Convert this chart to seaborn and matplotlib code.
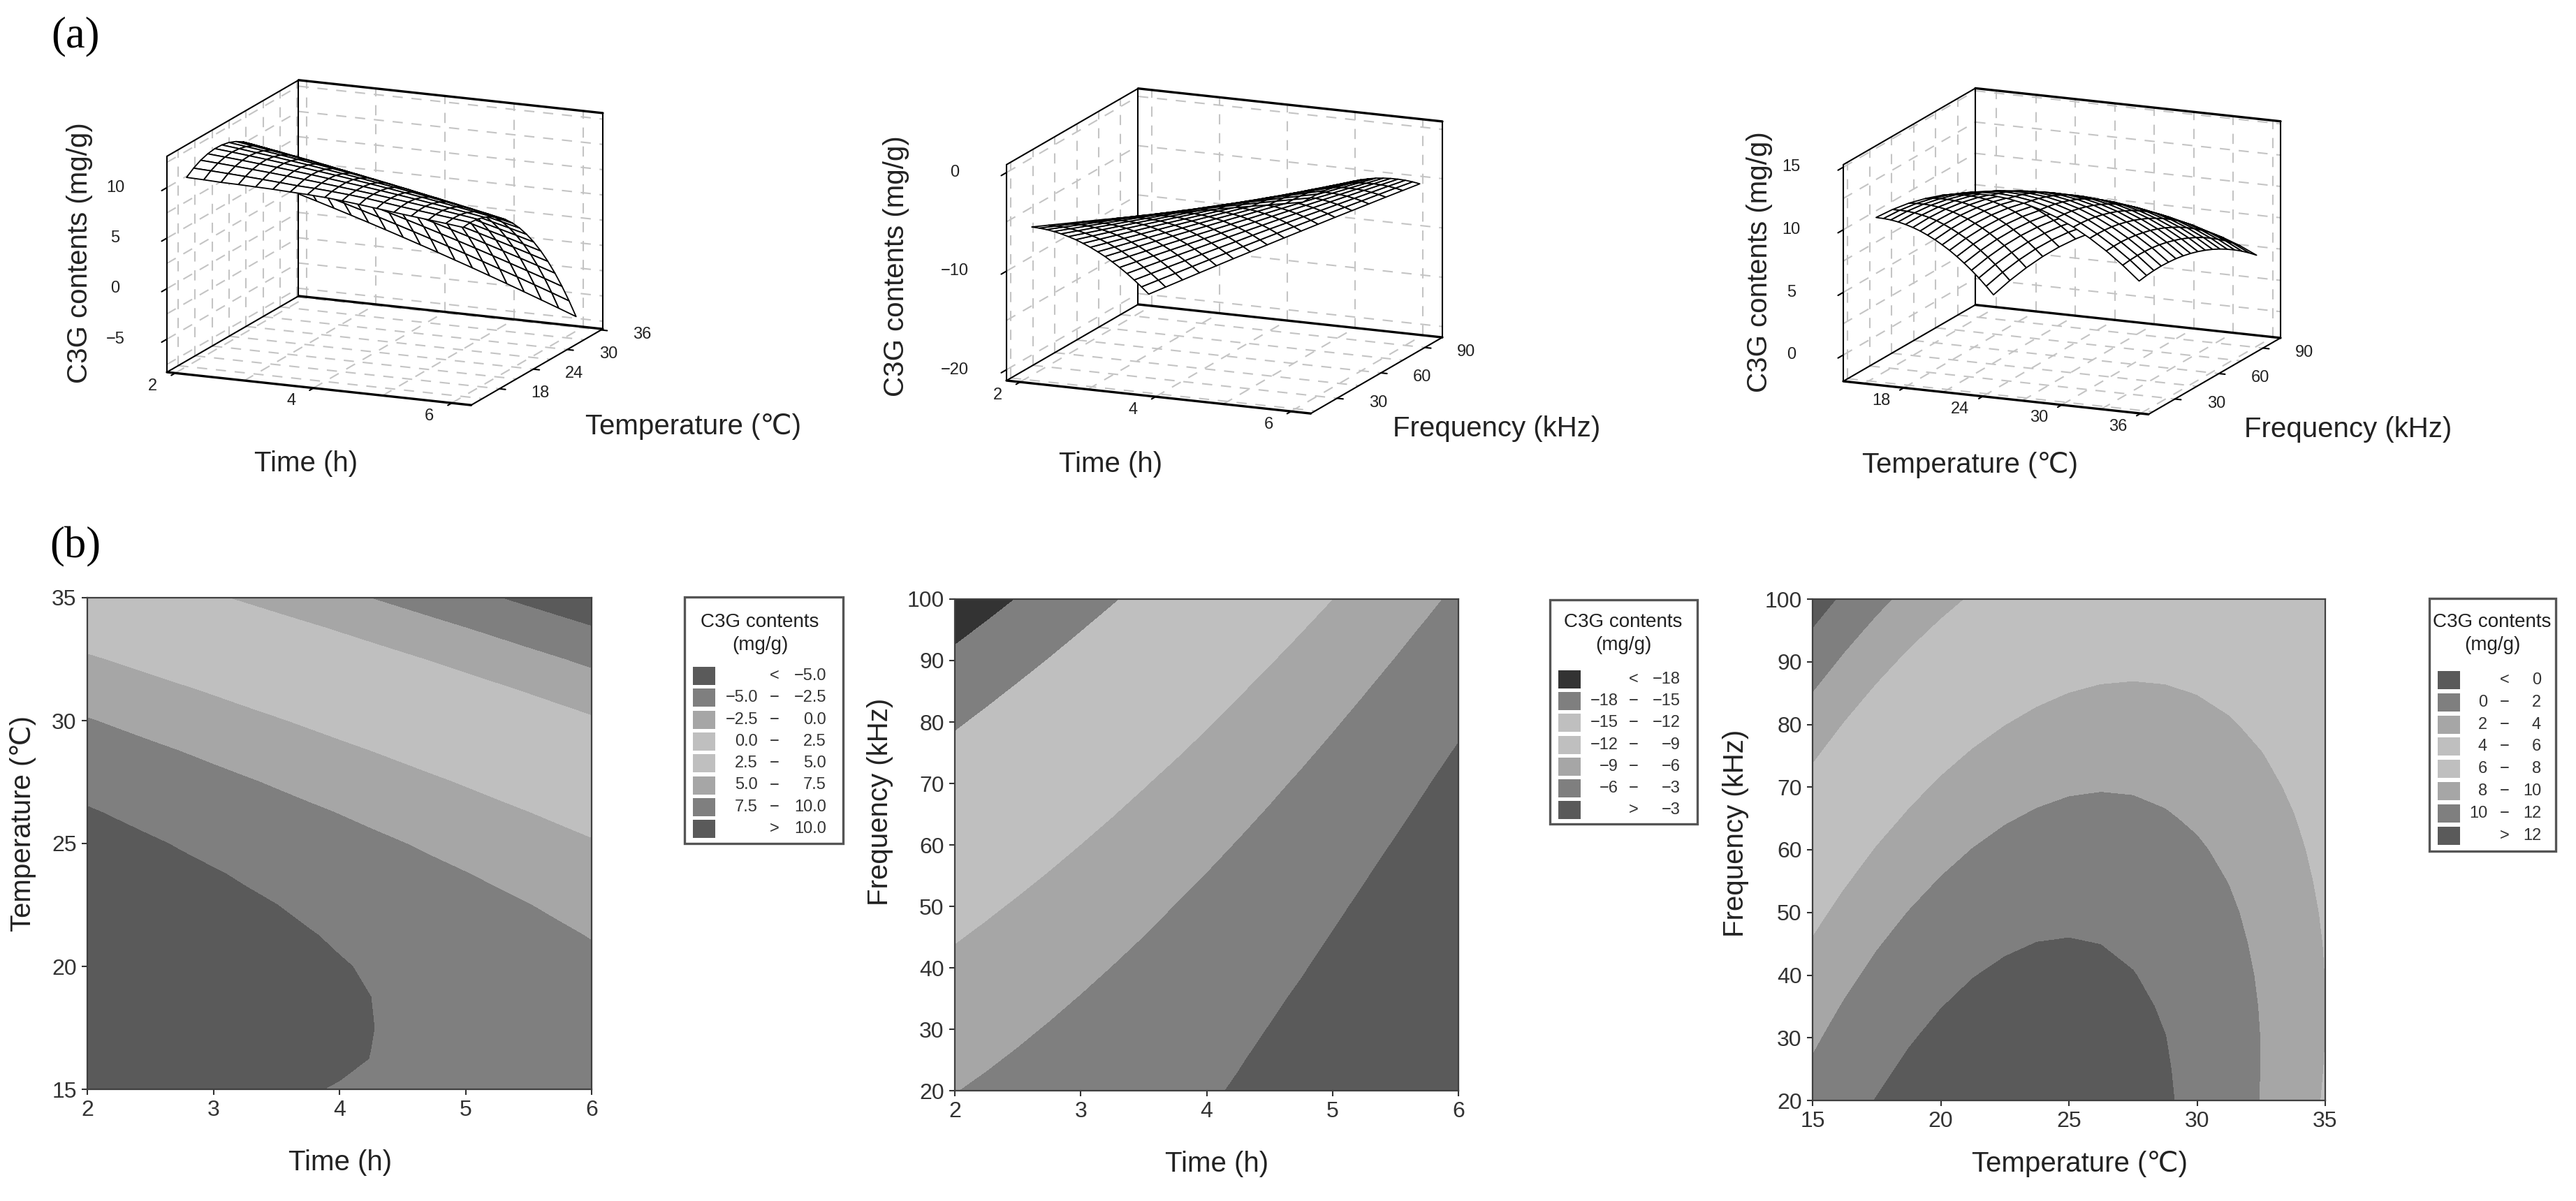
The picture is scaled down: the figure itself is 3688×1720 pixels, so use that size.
import numpy as np
import seaborn as sns
import matplotlib
matplotlib.use("Agg")
import matplotlib.pyplot as plt
from matplotlib.patches import Rectangle
from mpl_toolkits.mplot3d import proj3d

W, H = 3688, 1720

time_grid = [2, 2.25, 2.5, 2.75, 3, 3.25, 3.5, 3.75, 4, 4.25, 4.5, 4.75, 5, 5.25, 5.5, 5.75, 6]
temp_grid = [15, 16.25, 17.5, 18.75, 20, 21.25, 22.5, 23.75, 25, 26.25, 27.5, 28.75, 30, 31.25, 32.5, 33.75, 35]
freq_grid = [20, 25, 30, 35, 40, 45, 50, 55, 60, 65, 70, 75, 80, 85, 90, 95, 100]

# C3G contents: rows = time, columns = temperature
c3g_time_temp = [
    [10.45, 10.96, 11.34, 11.57, 11.68, 11.64, 11.48, 11.17, 10.73, 10.15, 9.44, 8.59, 7.61, 6.49, 5.23, 3.84, 2.31],
    [10.40, 10.88, 11.23, 11.43, 11.52, 11.45, 11.26, 10.92, 10.45, 9.85, 9.11, 8.23, 7.22, 6.07, 4.79, 3.37, 1.81],
    [10.33, 10.79, 11.11, 11.29, 11.34, 11.24, 11.03, 10.66, 10.17, 9.53, 8.76, 7.86, 6.82, 5.65, 4.33, 2.88, 1.30],
    [10.30, 10.69, 10.98, 11.13, 11.16, 11.03, 10.79, 10.39, 9.87, 9.21, 8.41, 7.48, 6.41, 5.21, 3.87, 2.39, 0.78],
    [10.25, 10.58, 10.85, 10.97, 10.96, 10.81, 10.54, 10.12, 9.57, 8.87, 8.05, 7.09, 6.00, 4.77, 3.39, 1.89, 0.25],
    [10.20, 10.46, 10.70, 10.79, 10.76, 10.58, 10.28, 9.83, 9.25, 8.53, 7.68, 6.69, 5.57, 4.31, 2.91, 1.38, -0.29],
    [10.12, 10.33, 10.54, 10.61, 10.55, 10.34, 10.01, 9.53, 8.93, 8.18, 7.30, 6.28, 5.13, 3.85, 2.42, 0.86, -0.84],
    [10.05, 10.25, 10.38, 10.41, 10.33, 10.09, 9.74, 9.23, 8.59, 7.82, 6.91, 5.87, 4.69, 3.37, 1.92, 0.33, -1.40],
    [9.95, 10.13, 10.20, 10.21, 10.10, 9.83, 9.45, 8.91, 8.25, 7.45, 6.51, 5.44, 4.23, 2.89, 1.41, -0.21, -1.96],
    [9.80, 9.99, 10.02, 10.00, 9.86, 9.56, 9.15, 8.59, 7.90, 7.07, 6.10, 5.00, 3.77, 2.40, 0.89, -0.76, -2.54],
    [9.62, 9.82, 9.83, 9.78, 9.61, 9.29, 8.85, 8.26, 7.54, 6.68, 5.69, 4.56, 3.30, 1.90, 0.36, -1.31, -3.12],
    [9.42, 9.60, 9.62, 9.55, 9.35, 9.00, 8.53, 7.91, 7.17, 6.28, 5.26, 4.10, 2.81, 1.39, -0.18, -1.88, -3.72],
    [9.22, 9.37, 9.41, 9.31, 9.08, 8.70, 8.21, 7.56, 6.79, 5.87, 4.82, 3.64, 2.32, 0.87, -0.73, -2.46, -4.32],
    [9.03, 9.17, 9.19, 9.06, 8.80, 8.40, 7.87, 7.20, 6.40, 5.45, 4.38, 3.16, 1.82, 0.34, -1.29, -3.04, -4.94],
    [8.85, 8.97, 8.96, 8.80, 8.51, 8.08, 7.53, 6.83, 6.00, 5.02, 3.92, 2.68, 1.31, -0.20, -1.86, -3.64, -5.56],
    [8.67, 8.76, 8.72, 8.53, 8.22, 7.76, 7.18, 6.45, 5.59, 4.59, 3.46, 2.19, 0.79, -0.75, -2.43, -4.24, -6.19],
    [8.47, 8.54, 8.47, 8.25, 7.91, 7.42, 6.82, 6.06, 5.17, 4.14, 2.98, 1.69, 0.26, -1.31, -3.02, -4.86, -6.83],
]

# rows = time, columns = frequency
c3g_time_freq = [
    [-6.06, -6.60, -7.18, -7.80, -8.47, -9.18, -9.92, -10.72, -11.55, -12.43, -13.34, -14.31, -15.31, -16.35, -17.44, -18.57, -19.74],
    [-5.69, -6.20, -6.74, -7.33, -7.97, -8.64, -9.35, -10.11, -10.91, -11.76, -12.63, -13.57, -14.53, -15.54, -16.60, -17.69, -18.83],
    [-5.33, -5.80, -6.31, -6.86, -7.46, -8.11, -8.78, -9.51, -10.27, -11.08, -11.93, -12.83, -13.76, -14.73, -15.75, -16.82, -17.92],
    [-4.96, -5.40, -5.88, -6.40, -6.97, -7.57, -8.21, -8.91, -9.64, -10.42, -11.22, -12.09, -12.99, -13.93, -14.92, -15.94, -17.01],
    [-4.60, -5.01, -5.45, -5.94, -6.47, -7.04, -7.65, -8.31, -9.01, -9.75, -10.52, -11.36, -12.22, -13.13, -14.08, -15.07, -16.11],
    [-4.25, -4.62, -5.03, -5.48, -5.98, -6.52, -7.09, -7.72, -8.38, -9.09, -9.83, -10.63, -11.46, -12.33, -13.25, -14.21, -15.21],
    [-3.89, -4.23, -4.60, -5.02, -5.49, -6.00, -6.53, -7.13, -7.76, -8.43, -9.14, -9.91, -10.70, -11.54, -12.43, -13.36, -14.32],
    [-3.54, -3.85, -4.19, -4.57, -5.00, -5.48, -5.98, -6.54, -7.14, -7.78, -8.45, -9.19, -9.95, -10.75, -11.60, -12.50, -13.43],
    [-3.20, -3.47, -3.78, -4.13, -4.52, -4.96, -5.43, -5.96, -6.52, -7.13, -7.77, -8.47, -9.20, -9.97, -10.78, -11.64, -12.54],
    [-2.86, -3.09, -3.37, -3.68, -4.05, -4.45, -4.89, -5.38, -5.91, -6.48, -7.09, -7.75, -8.45, -9.18, -9.97, -10.79, -11.66],
    [-2.52, -2.72, -2.96, -3.24, -3.57, -3.95, -4.35, -4.81, -5.30, -5.84, -6.41, -7.04, -7.70, -8.40, -9.15, -9.95, -10.78],
    [-2.19, -2.35, -2.56, -2.81, -3.11, -3.44, -3.81, -4.24, -4.69, -5.20, -5.74, -6.33, -6.96, -7.63, -8.35, -9.10, -9.90],
    [-1.86, -1.99, -2.16, -2.38, -2.64, -2.94, -3.28, -3.67, -4.09, -4.56, -5.07, -5.63, -6.22, -6.86, -7.54, -8.26, -9.03],
    [-1.53, -1.63, -1.77, -1.95, -2.18, -2.45, -2.75, -3.10, -3.49, -3.93, -4.40, -4.93, -5.49, -6.09, -6.74, -7.43, -8.16],
    [-1.21, -1.27, -1.38, -1.52, -1.72, -1.95, -2.22, -2.54, -2.90, -3.30, -3.74, -4.23, -4.76, -5.32, -5.94, -6.59, -7.29],
    [-0.89, -0.92, -0.99, -1.10, -1.26, -1.46, -1.70, -1.99, -2.31, -2.68, -3.08, -3.54, -4.03, -4.56, -5.14, -5.76, -6.43],
    [-0.57, -0.57, -0.61, -0.69, -0.81, -0.98, -1.18, -1.43, -1.72, -2.06, -2.42, -2.85, -3.31, -3.81, -4.35, -4.94, -5.57],
]

# rows = temperature, columns = frequency
c3g_temp_freq = [
    [10.62, 10.20, 9.75, 9.25, 8.71, 8.13, 7.51, 6.84, 6.14, 5.39, 4.61, 3.78, 2.91, 2.00, 1.05, 0.05, -0.98],
    [11.40, 11.01, 10.59, 10.12, 9.61, 9.07, 8.48, 7.84, 7.17, 6.45, 5.71, 4.91, 4.07, 3.19, 2.27, 1.31, 0.31],
    [12.05, 11.69, 11.30, 10.87, 10.39, 9.88, 9.32, 8.71, 8.08, 7.39, 6.68, 5.91, 5.10, 4.26, 3.37, 2.44, 1.47],
    [12.56, 12.24, 11.88, 11.48, 11.04, 10.56, 10.03, 9.46, 8.86, 8.20, 7.52, 6.79, 6.01, 5.20, 4.35, 3.45, 2.51],
    [12.96, 12.67, 12.34, 11.97, 11.56, 11.11, 10.62, 10.08, 9.51, 8.89, 8.24, 7.54, 6.79, 6.01, 5.19, 4.32, 3.42],
    [13.23, 12.97, 12.68, 12.34, 11.96, 11.54, 11.08, 10.57, 10.03, 9.45, 8.83, 8.16, 7.45, 6.70, 5.91, 5.07, 4.20],
    [13.37, 13.14, 12.88, 12.58, 12.23, 11.84, 11.42, 10.94, 10.43, 9.88, 9.29, 8.65, 7.97, 7.26, 6.50, 5.69, 4.86],
    [13.39, 13.19, 12.97, 12.69, 12.38, 12.02, 11.63, 11.18, 10.71, 10.18, 9.63, 9.02, 8.38, 7.69, 6.97, 6.19, 5.39],
    [13.27, 13.10, 12.91, 12.67, 12.39, 12.07, 11.70, 11.29, 10.85, 10.36, 9.84, 9.26, 8.65, 8.00, 7.31, 6.57, 5.79],
    [13.03, 12.90, 12.74, 12.53, 12.28, 11.99, 11.66, 11.28, 10.87, 10.41, 9.92, 9.38, 8.80, 8.18, 7.52, 6.81, 6.07],
    [12.67, 12.57, 12.44, 12.26, 12.04, 11.79, 11.49, 11.14, 10.76, 10.33, 9.88, 9.37, 8.82, 8.23, 7.60, 6.93, 6.22],
    [12.18, 12.11, 12.02, 11.87, 11.68, 11.46, 11.19, 10.88, 10.53, 10.13, 9.71, 9.23, 8.72, 8.16, 7.56, 6.92, 6.24],
    [11.56, 11.53, 11.46, 11.35, 11.19, 11.00, 10.77, 10.48, 10.17, 9.80, 9.41, 8.97, 8.48, 7.96, 7.39, 6.78, 6.14],
    [10.81, 10.81, 10.78, 10.70, 10.58, 10.41, 10.21, 9.96, 9.68, 9.35, 8.99, 8.58, 8.13, 7.64, 7.11, 6.52, 5.91],
    [9.94, 9.97, 9.97, 9.92, 9.83, 9.70, 9.54, 9.32, 9.07, 8.77, 8.44, 8.06, 7.64, 7.18, 6.68, 6.13, 5.56],
    [8.94, 9.01, 9.04, 9.02, 8.97, 8.87, 8.73, 8.54, 8.33, 8.06, 7.76, 7.42, 7.03, 6.60, 6.14, 5.62, 5.07],
    [7.82, 7.92, 7.98, 8.00, 7.97, 7.91, 7.80, 7.65, 7.46, 7.23, 6.96, 6.65, 6.29, 5.90, 5.46, 4.98, 4.46],
]

# contour levels and legend rows
levels_1 = [-100, -5, -2.5, 0, 2.5, 5, 7.5, 10, 100]
levels_2 = [-100, -18, -15, -12, -9, -6, -3, 100]
levels_3 = [-100, 0, 2, 4, 6, 8, 10, 12, 100]
shades_1 = ["#5a5a5a", "#7f7f7f", "#a6a6a6", "#bfbfbf", "#bfbfbf", "#a6a6a6", "#7f7f7f", "#5a5a5a"]
shades_2 = ["#333333", "#7f7f7f", "#bfbfbf", "#bfbfbf", "#a6a6a6", "#7f7f7f", "#5a5a5a"]
shades_3 = ["#5a5a5a", "#7f7f7f", "#a6a6a6", "#bfbfbf", "#bfbfbf", "#a6a6a6", "#7f7f7f", "#5a5a5a"]
rows_1 = [("", "<", "−5.0"), ("−5.0", "−", "−2.5"), ("−2.5", "−", "0.0"), ("0.0", "−", "2.5"),
          ("2.5", "−", "5.0"), ("5.0", "−", "7.5"), ("7.5", "−", "10.0"), ("", ">", "10.0")]
rows_2 = [("", "<", "−18"), ("−18", "−", "−15"), ("−15", "−", "−12"), ("−12", "−", "−9"),
          ("−9", "−", "−6"), ("−6", "−", "−3"), ("", ">", "−3")]
rows_3 = [("", "<", "0"), ("0", "−", "2"), ("2", "−", "4"), ("4", "−", "6"),
          ("6", "−", "8"), ("8", "−", "10"), ("10", "−", "12"), ("", ">", "12")]

sns.set_theme(style="ticks")
plt.rcParams["font.family"] = ["Liberation Sans", "DejaVu Sans"]
plt.rcParams["axes.unicode_minus"] = True

fig = plt.figure(figsize=(W / 100, H / 100), dpi=100, facecolor="white")


def px_rect(left, top, right, bottom):
    return [left / W, 1 - bottom / H, (right - left) / W, (bottom - top) / H]


def put_text(x, y, s, **kw):
    fig.text(x / W, 1 - y / H, s, ha=kw.pop("ha", "center"), va=kw.pop("va", "center"), **kw)


def box_text(ax, x, y, z, s):
    # 3D position -> pixel, so the tick label is a plain figure text
    xp, yp, _ = proj3d.proj_transform(x, y, z, ax.get_proj())
    px, py = ax.transData.transform((xp, yp))
    fig.text(px / W, py / H, s, ha="center", va="center", fontsize=17, color="#222222")


def surface_panel(xs, ys, zs, xr, yr, zr, xt, yt, zt, xg, yg, zg, corner, width):
    ax = fig.add_axes([0, 0, 0.3, 0.3], projection="3d", computed_zorder=False)
    ax.set_proj_type("ortho")
    ax.view_init(elev=14.5, azim=-66.6)
    ax.set_xlim(xr)
    ax.set_ylim(yr)
    ax.set_zlim(zr)
    ax.set_box_aspect((1, 1, 0.673))
    ax.set_axis_off()

    # place the box so that its lower left corner sits on the wanted pixel
    M = ax.get_proj()
    ax_px, ay_px, _ = proj3d.proj_transform(xr[0], yr[0], zr[0], M)
    cx_px, _, _ = proj3d.proj_transform(xr[1], yr[1], zr[0], M)
    vl = ax.viewLim
    side = width / (cx_px - ax_px) * (vl.x1 - vl.x0)
    left = corner[0] - (ax_px - vl.x0) / (vl.x1 - vl.x0) * side
    bottom = (H - corner[1]) - (ay_px - vl.y0) / (vl.y1 - vl.y0) * side
    ax.set_position([left / W, bottom / H, side / W, side / H])

    dash = dict(color="#c4c4c4", lw=1.5, ls=(0, (7, 6)), zorder=1)
    for v in xg:
        ax.plot([v, v], [yr[1], yr[1]], zr, **dash)
        ax.plot([v, v], yr, [zr[0], zr[0]], **dash)
    for v in yg:
        ax.plot([xr[0], xr[0]], [v, v], zr, **dash)
        ax.plot(xr, [v, v], [zr[0], zr[0]], **dash)
    for v in zg:
        ax.plot([xr[0], xr[0]], yr, [v, v], **dash)
        ax.plot(xr, [yr[1], yr[1]], [v, v], **dash)

    thin = dict(color="black", lw=1.5, zorder=2)
    bold = dict(color="black", lw=2.4, zorder=2)
    ax.plot([xr[0], xr[0]], [yr[0], yr[0]], zr, **thin)
    ax.plot([xr[0], xr[0]], [yr[1], yr[1]], zr, **thin)
    ax.plot([xr[1], xr[1]], [yr[1], yr[1]], zr, **thin)
    ax.plot([xr[0], xr[0]], yr, [zr[0], zr[0]], **thin)
    ax.plot([xr[0], xr[0]], yr, [zr[1], zr[1]], **thin)
    ax.plot([xr[1], xr[1]], yr, [zr[0], zr[0]], **thin)
    ax.plot(xr, [yr[0], yr[0]], [zr[0], zr[0]], **bold)
    ax.plot(xr, [yr[1], yr[1]], [zr[0], zr[0]], **bold)
    ax.plot(xr, [yr[1], yr[1]], [zr[1], zr[1]], **bold)

    X, Y = np.meshgrid(xs, ys, indexing="ij")
    ax.plot_surface(X, Y, np.array(zs), rstride=1, cstride=1, color="white", edgecolor="black",
                    linewidth=1.3, shade=False, antialiased=True, zorder=5)

    xspan, yspan = xr[1] - xr[0], yr[1] - yr[0]
    for v in xt:
        ax.plot([v, v], [yr[0], yr[0] - 0.03 * yspan], [zr[0], zr[0]], color="black", lw=1.5, zorder=2)
        box_text(ax, v, yr[0] - 0.17 * yspan, zr[0], str(v))
    for v in yt:
        ax.plot([xr[1], xr[1] + 0.02 * xspan], [v, v], [zr[0], zr[0]], color="black", lw=1.5, zorder=2)
        box_text(ax, xr[1] + 0.135 * xspan, v, zr[0], str(v))
    for v in zt:
        ax.plot([xr[0], xr[0]], [yr[0], yr[0] - 0.04 * yspan], [v, v], color="black", lw=1.5, zorder=2)
        box_text(ax, xr[0] - 0.143 * xspan, yr[0] - 0.0623 * yspan, v, str(v).replace("-", "−"))
    return ax


def contour_panel(rect, xs, ys, zs, levels, shades, xticks, yticks):
    ax = fig.add_axes(px_rect(*rect))
    ax.contourf(xs, ys, np.array(zs).T, levels=levels, colors=sns.color_palette(shades))
    ax.set_xticks(xticks)
    ax.set_yticks(yticks)
    ax.tick_params(labelsize=23, length=6, width=1.5, color="#333333", labelcolor="#333333", pad=5)
    for name, spine in ax.spines.items():
        spine.set_color("#404040")
        spine.set_linewidth(1.6)
    sns.despine(ax=ax, top=False, right=False)
    return ax


def legend_box(overlay, box, swatch_x, rows_top, pitch, title_x, right1, dash_x, right2, rows, shades):
    overlay.add_patch(Rectangle((box[0], box[1]), box[2] - box[0], box[3] - box[1], fill=False,
                                edgecolor="#555555", lw=2.4))
    overlay.text(title_x, 891, "C3G contents", ha="center", va="center", fontsize=20, color="#222222")
    overlay.text(title_x, 924, "(mg/g)", ha="center", va="center", fontsize=20, color="#222222")
    for i, (row, shade) in enumerate(zip(rows, shades)):
        top = rows_top + i * pitch
        overlay.add_patch(Rectangle((swatch_x, top), 32, 26, facecolor=shade, edgecolor="none"))
        cy = top + 13
        if row[0]:
            overlay.text(right1, cy, row[0], ha="right", va="center", fontsize=17, color="#333333")
        overlay.text(dash_x, cy, row[1], ha="center", va="center", fontsize=17, color="#333333")
        overlay.text(right2, cy, row[2], ha="right", va="center", fontsize=17, color="#333333")


# (a) response surfaces
surface_panel(time_grid, temp_grid, c3g_time_temp, (1.88, 6.28), (13, 36.3), (-8.27, 13.1),
              [2, 4, 6], [18, 24, 30, 36], [-5, 0, 5, 10],
              [2, 3, 4, 5, 6], [15, 18, 21, 24, 27, 30, 33, 36], np.arange(-7.5, 13, 2.5),
              (239, 533), 624)
surface_panel(time_grid, freq_grid, c3g_time_freq, (1.8, 6.29), (12, 102), (-21.1, 0.8),
              [2, 4, 6], [30, 60, 90], [-20, -10, 0],
              [2, 3, 4, 5, 6], [15, 30, 45, 60, 75, 90], [-20, -15, -10, -5, 0],
              (1441, 545), 624)
surface_panel(temp_grid, freq_grid, c3g_temp_freq, (13.4, 36.6), (12, 102), (-2.1, 15.2),
              [18, 24, 30, 36], [30, 60, 90], [0, 5, 10, 15],
              [15, 18, 21, 24, 27, 30, 33, 36], [15, 30, 45, 60, 75, 90], np.arange(0, 15.5, 2.5),
              (2639, 546), 626)

# (b) contour maps
contour_panel((125, 856, 847, 1560), time_grid, temp_grid, c3g_time_temp, levels_1, shades_1,
              [2, 3, 4, 5, 6], [15, 20, 25, 30, 35])
contour_panel((1367, 858, 2088, 1562), time_grid, freq_grid, c3g_time_freq, levels_2, shades_2,
              [2, 3, 4, 5, 6], [20, 30, 40, 50, 60, 70, 80, 90, 100])
contour_panel((2595, 858, 3329, 1576), temp_grid, freq_grid, c3g_temp_freq, levels_3, shades_3,
              [15, 20, 25, 30, 35], [20, 30, 40, 50, 60, 70, 80, 90, 100])

overlay = fig.add_axes([0, 0, 1, 1], zorder=10)
overlay.set_xlim(0, W)
overlay.set_ylim(H, 0)
overlay.set_axis_off()
legend_box(overlay, (980, 855, 1207, 1208), 992, 955, 31.3, 1088, 1085, 1109, 1183, rows_1, shades_1)
legend_box(overlay, (2219, 859, 2430, 1180), 2231, 960, 31.2, 2324, 2317, 2339, 2406, rows_2, shades_2)
legend_box(overlay, (3478, 857, 3659, 1219), 3490, 961, 31.8, 3568, 3561, 3586, 3638, rows_3, shades_3)

# axis titles
label = dict(fontsize=29, color="#222222")
put_text(114, 362, "C3G contents (mg/g)", rotation=90, **label)
put_text(438, 664, "Time (h)", **label)
put_text(992, 611, "Temperature (℃)", **label)
put_text(1283, 381, "C3G contents (mg/g)", rotation=90, **label)
put_text(1590, 665, "Time (h)", **label)
put_text(2143, 614, "Frequency (kHz)", **label)
put_text(2519, 375, "C3G contents (mg/g)", rotation=90, **label)
put_text(2821, 666, "Temperature (℃)", **label)
put_text(3362, 615, "Frequency (kHz)", **label)

put_text(33, 1180, "Temperature (℃)", rotation=90, **label)
put_text(487, 1665, "Time (h)", **label)
put_text(1260, 1148, "Frequency (kHz)", rotation=90, **label)
put_text(1742, 1667, "Time (h)", **label)
put_text(2485, 1193, "Frequency (kHz)", rotation=90, **label)
put_text(2977, 1667, "Temperature (℃)", **label)

put_text(108, 52, "(a)", fontsize=45, family="Liberation Serif", color="black")
put_text(108, 783, "(b)", fontsize=45, family="Liberation Serif", color="black")

fig.savefig("out.png", dpi=100, facecolor="white")
